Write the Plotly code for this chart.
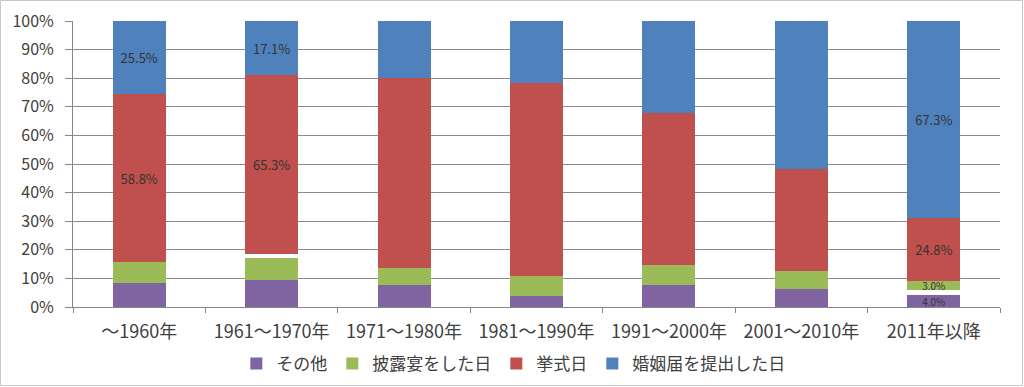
import plotly.graph_objects as go

categories = ["～1960年", "1961～1970年", "1971～1980年", "1981～1990年",
              "1991～2000年", "2001～2010年", "2011年以降"]

# segment heights (%), bottom to top
other = [8.5, 9.3, 7.6, 3.9, 7.6, 6.3, 4.1]          # その他
gap_a = [0, 0, 0, 0, 0, 0, 1.7]                       # blank (unlabelled)
reception = [7.2, 7.9, 6.1, 7.0, 7.0, 6.4, 3.3]       # 披露宴をした日
gap_b = [0, 1.5, 0, 0, 0, 0, 0]                       # blank (unlabelled)
ceremony = [58.8, 62.4, 66.2, 67.5, 53.4, 35.4, 22.1] # 挙式日
registration = [25.5, 18.9, 20.1, 21.6, 32.0, 51.9, 68.8]  # 婚姻届を提出した日

# data labels as printed on the chart
other_lbl = ["", "", "", "", "", "", "4.0%"]
reception_lbl = ["", "", "", "", "", "", "3.0%"]
ceremony_lbl = ["58.8%", "65.3%", "", "", "", "", "24.8%"]
registration_lbl = ["25.5%", "17.1%", "", "", "", "", "67.3%"]

JP = "'Noto Sans CJK JP', sans-serif"

fig = go.Figure()

def add(name, vals, color, lbl=None, show=True, size=13):
    fig.add_trace(go.Bar(
        name=name, x=categories, y=vals,
        marker=dict(color=color, line=dict(width=0)),
        text=lbl, textposition="inside" if lbl else "none",
        insidetextanchor="middle", constraintext="none",
        textfont=dict(color="#333333", size=size, family=JP),
        texttemplate="%{text}" if lbl else None,
        showlegend=show,
    ))

add("その他", other, "#8064A2", other_lbl, size=10)
add("gap_a", gap_a, "#FFFFFF", None, show=False)
add("披露宴をした日", reception, "#9BBB59", reception_lbl, size=10)
add("gap_b", gap_b, "#FFFFFF", None, show=False)
add("挙式日", ceremony, "#C0504D", ceremony_lbl)
add("婚姻届を提出した日", registration, "#4F81BD", registration_lbl)

L, R, T, B = 73, 24, 21, 80
W, H = 1024, 387
pw, ph = W - L - R, H - T - B

fig.update_layout(
    barmode="stack",
    bargap=0.6,
    width=W, height=H,
    margin=dict(l=L, r=R, t=T, b=B, pad=0, autoexpand=False),
    paper_bgcolor="white", plot_bgcolor="white",
    font=dict(family=JP, color="#404040", size=14),
    legend=dict(orientation="h", x=0.475, xanchor="center",
                y=(T + ph - 364) / ph, yanchor="middle", traceorder="normal",
                font=dict(family=JP, size=17, color="#404040"),
                itemwidth=30),
    xaxis=dict(showgrid=False, showline=True, linecolor="#868686", linewidth=1,
               ticks="outside", tickson="boundaries", ticklen=5,
               tickcolor="#868686", ticklabelstandoff=8,
               tickfont=dict(family=JP, size=18, color="#404040")),
    yaxis=dict(range=[0, 100], dtick=10, ticksuffix="%",
               showgrid=True, gridcolor="#8C8C8C", gridwidth=1,
               showline=True, linecolor="#868686", linewidth=1,
               ticks="outside", ticklen=7, tickcolor="#868686",
               zeroline=False, ticklabelstandoff=8,
               tickfont=dict(family=JP, size=16, color="#404040")),
    shapes=[dict(type="rect", xref="paper", yref="paper",
                 x0=(0.5 - L) / pw, x1=(W - 1.5 - L) / pw,
                 y0=(T + ph - (H - 1.5)) / ph, y1=(T + ph - 0.5) / ph,
                 line=dict(color="#C8C8C8", width=1), layer="below")],
)

fig.write_html("out.html",
               config={"displayModeBar": False},
               post_script="document.body.style.margin='0';"
                           "document.body.style.overflow='hidden';")
